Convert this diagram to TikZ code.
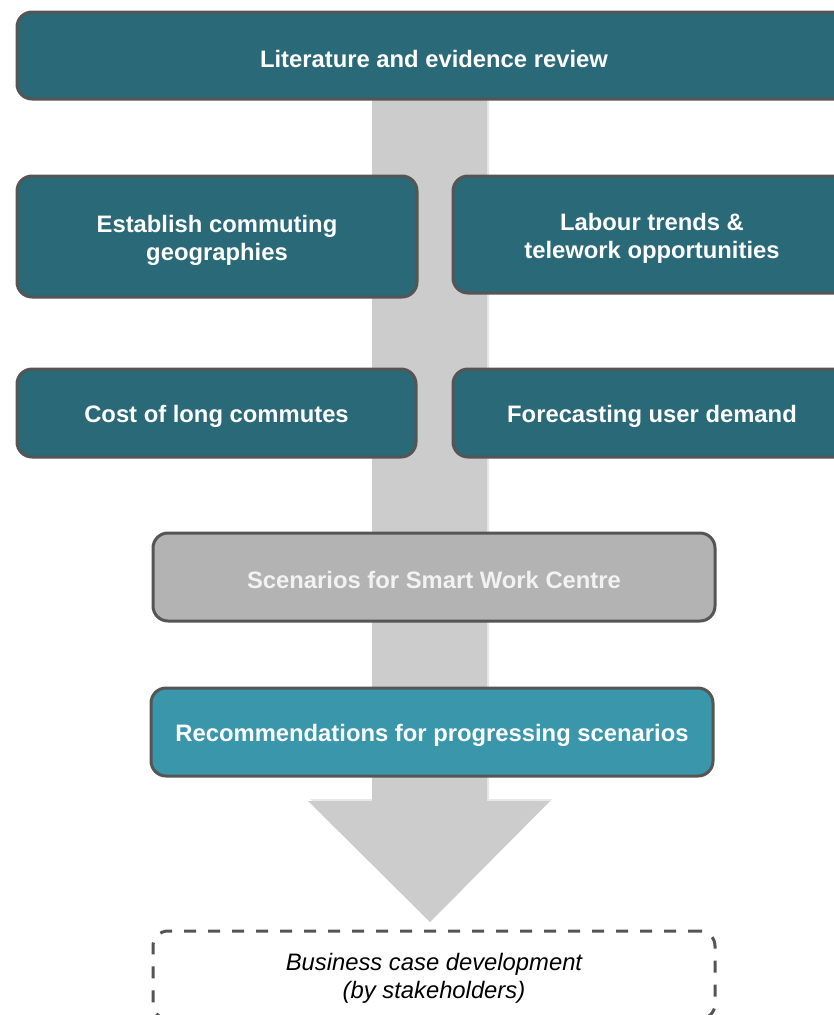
\documentclass[tikz,border=0pt]{standalone}
\usepackage{fontspec}
\setmainfont{Liberation Sans}
\begin{document}
\begin{tikzpicture}[x=1pt,y=-1pt,
  box/.style={draw=boxline, line width=3pt, rounded corners=15pt, fill=teal1,
    text=white, font=\fontsize{23.8}{28}\selectfont\bfseries, align=center,
    inner sep=0pt, execute at begin node={\rule{0pt}{23.5pt}}},
  twoline/.style={execute at begin node={\rule{0pt}{53pt}}},
  dashbox/.style={draw=boxline, line width=3pt, rounded corners=15pt,
    dash pattern=on 12pt off 12pt, font=\fontsize{23.8}{28}\selectfont\itshape,
    align=center, inner sep=0pt, text=black, execute at begin node={\rule{0pt}{51pt}}}]
\definecolor{teal1}{HTML}{2A6977}
\definecolor{teal2}{HTML}{3A96AB}
\definecolor{boxline}{HTML}{555555}
\definecolor{scen}{HTML}{B3B3B3}
\definecolor{shaft}{HTML}{CCCCCC}
\useasboundingbox (0,0) rectangle (834,1015);
% big block arrow
\coordinate (s1) at (372,99);
\coordinate (s2) at (487,99);
\coordinate (s3) at (487,801);
\coordinate (h1) at (550,801);
\coordinate (tip) at (430,922);
\coordinate (h2) at (308,801);
\coordinate (s4) at (372,801);
\fill[black!15, opacity=0.6] ([xshift=2pt,yshift=2pt]s1) -- ([xshift=2pt,yshift=2pt]s2) -- ([xshift=2pt,yshift=2pt]s3) -- ([xshift=2pt,yshift=2pt]h1) -- ([xshift=2pt,yshift=2pt]tip) -- ([xshift=2pt,yshift=2pt]h2) -- ([xshift=2pt,yshift=2pt]s4) -- cycle;
\fill[shaft] (s1) -- (s2) -- (s3) -- (h1) -- (tip) -- (h2) -- (s4) -- cycle;
% boxes
\node[box, minimum width=834pt, minimum height=87pt] (lit) at (434,55.5) {Literature and evidence review};
\node[box, twoline, minimum width=400pt, minimum height=121pt] (geo) at (217,236.5) {Establish commuting\\geographies};
\node[box, twoline, minimum width=398pt, minimum height=117pt] (lab) at (652,234.5) {Labour trends \&\\telework opportunities};
\node[box, minimum width=399pt, minimum height=88pt] (cost) at (216.5,413) {Cost of long commutes};
\node[box, minimum width=398pt, minimum height=88pt] (fore) at (652,413) {Forecasting user demand};
\node[box, fill=scen, text=white!95!black, minimum width=562pt, minimum height=88pt] (scen) at (434,577) {Scenarios for Smart Work Centre};
\node[box, fill=teal2, minimum width=562pt, minimum height=88pt] (rec) at (432,732) {Recommendations for progressing scenarios};
\node[dashbox, minimum width=562pt, minimum height=88pt] (bus) at (434,975) {Business case development\\(by stakeholders)};
\end{tikzpicture}
\end{document}
